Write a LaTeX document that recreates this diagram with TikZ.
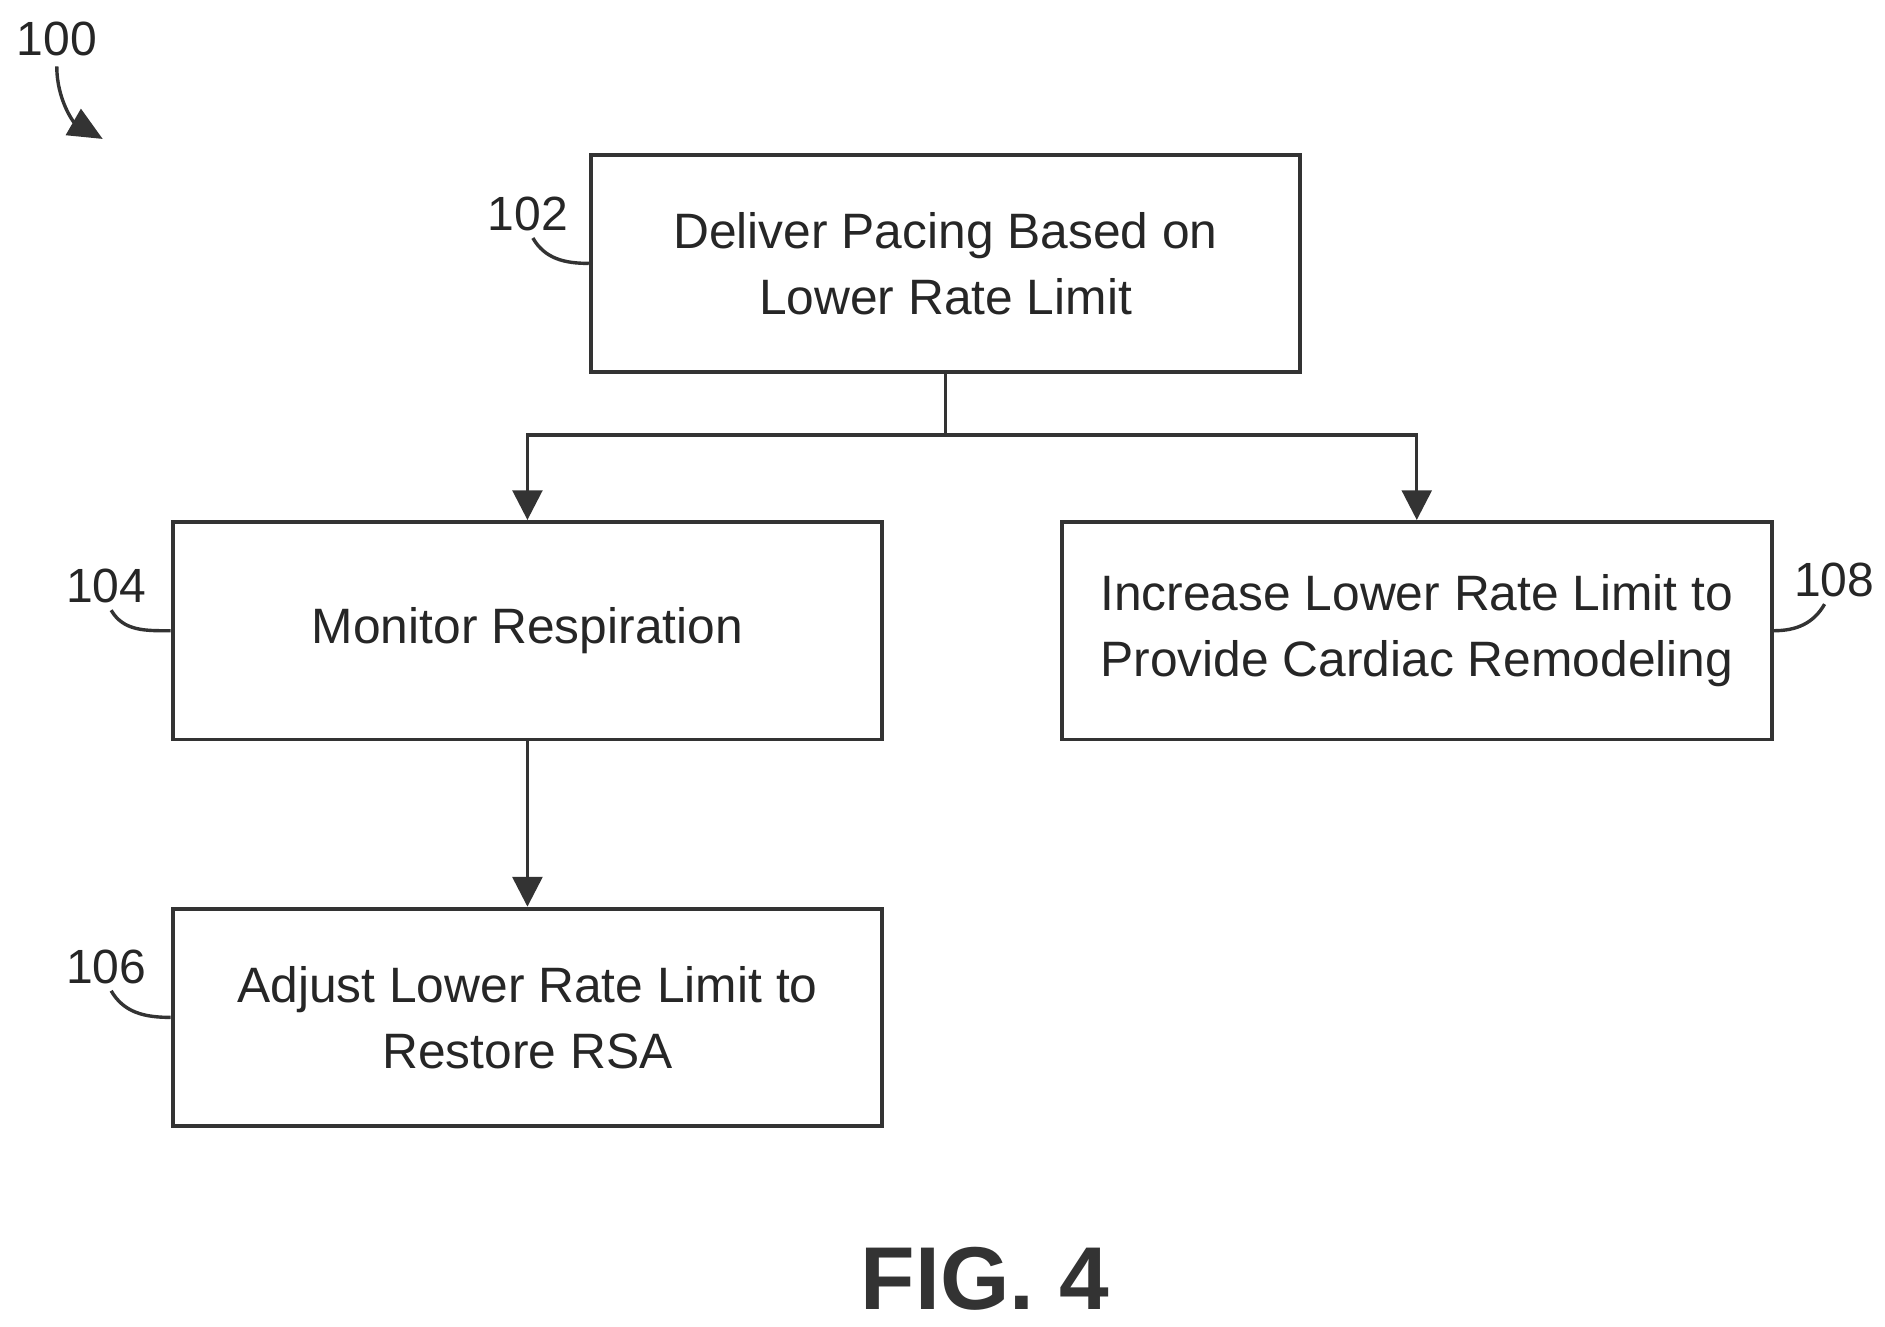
\documentclass[tikz,border=0pt]{standalone}
\usepackage{fontspec}
\setmainfont{Liberation Sans}
\usetikzlibrary{arrows.meta,positioning}
\tikzstyle{box}=[draw=black!80, line width=0.9pt, minimum width=5.87cm, minimum height=1.8cm, align=center, font=\fontsize{11.7}{15.5}\selectfont, text=black!85]
\tikzstyle{l1}=[line width=0.8pt, black!80]
\tikzstyle{ref}=[font=\fontsize{11.3}{13}\selectfont, text=black!85]
\tikzstyle{arr}=[l1, -{Triangle[length=7pt,width=7pt]}]

\begin{document}
\begin{tikzpicture}[x=0.01cm, y=-0.01cm]
    \useasboundingbox (0,0) rectangle (1560,1098);
    % boxes
    \node[box] at (782.5,218) (deliver) {Deliver Pacing Based on\\Lower Rate Limit};
    \node[box] at (436.5,522) (monitor) {Monitor Respiration};
    \node[box] at (1172.5,522) (increase) {Increase Lower Rate Limit to\\Provide Cardiac Remodeling};
    \node[box] at (436.5,842) (adjust) {Adjust Lower Rate Limit to\\Restore RSA};

    % connectors
    \coordinate (split) at (782.5,360);
    \draw[l1] (deliver.south) -- (split);
    \draw[arr] (split) -| (monitor.north);
    \draw[arr] (split) -| (increase.north);
    \draw[arr] (monitor) -- (adjust);

    % reference numerals
    \node[ref] at (47,32) (n100) {100};
    \draw[l1, -{Triangle[length=8pt,width=7pt]}] (47,55) to[out=-90,in=150] (85,115);
    \node[ref] at (437,177) (n102) {102};
    \draw[l1] (441,197) to[out=-60,in=180] (deliver.west);
    \node[ref] at (88,485) (n104) {104};
    \draw[l1] (92,505) to[out=-60,in=180] (monitor.west);
    \node[ref] at (88,800) (n106) {106};
    \draw[l1] (92,820) to[out=-60,in=180] (adjust.west);
    \node[ref] at (1518,480) (n108) {108};
    \draw[l1] (1510,500) to[out=-120,in=0] (increase.east);

    \node[font=\bfseries\fontsize{21}{24}\selectfont, text=black!80] at (815,1058) (fig) {FIG. 4};
\end{tikzpicture}
\end{document}
